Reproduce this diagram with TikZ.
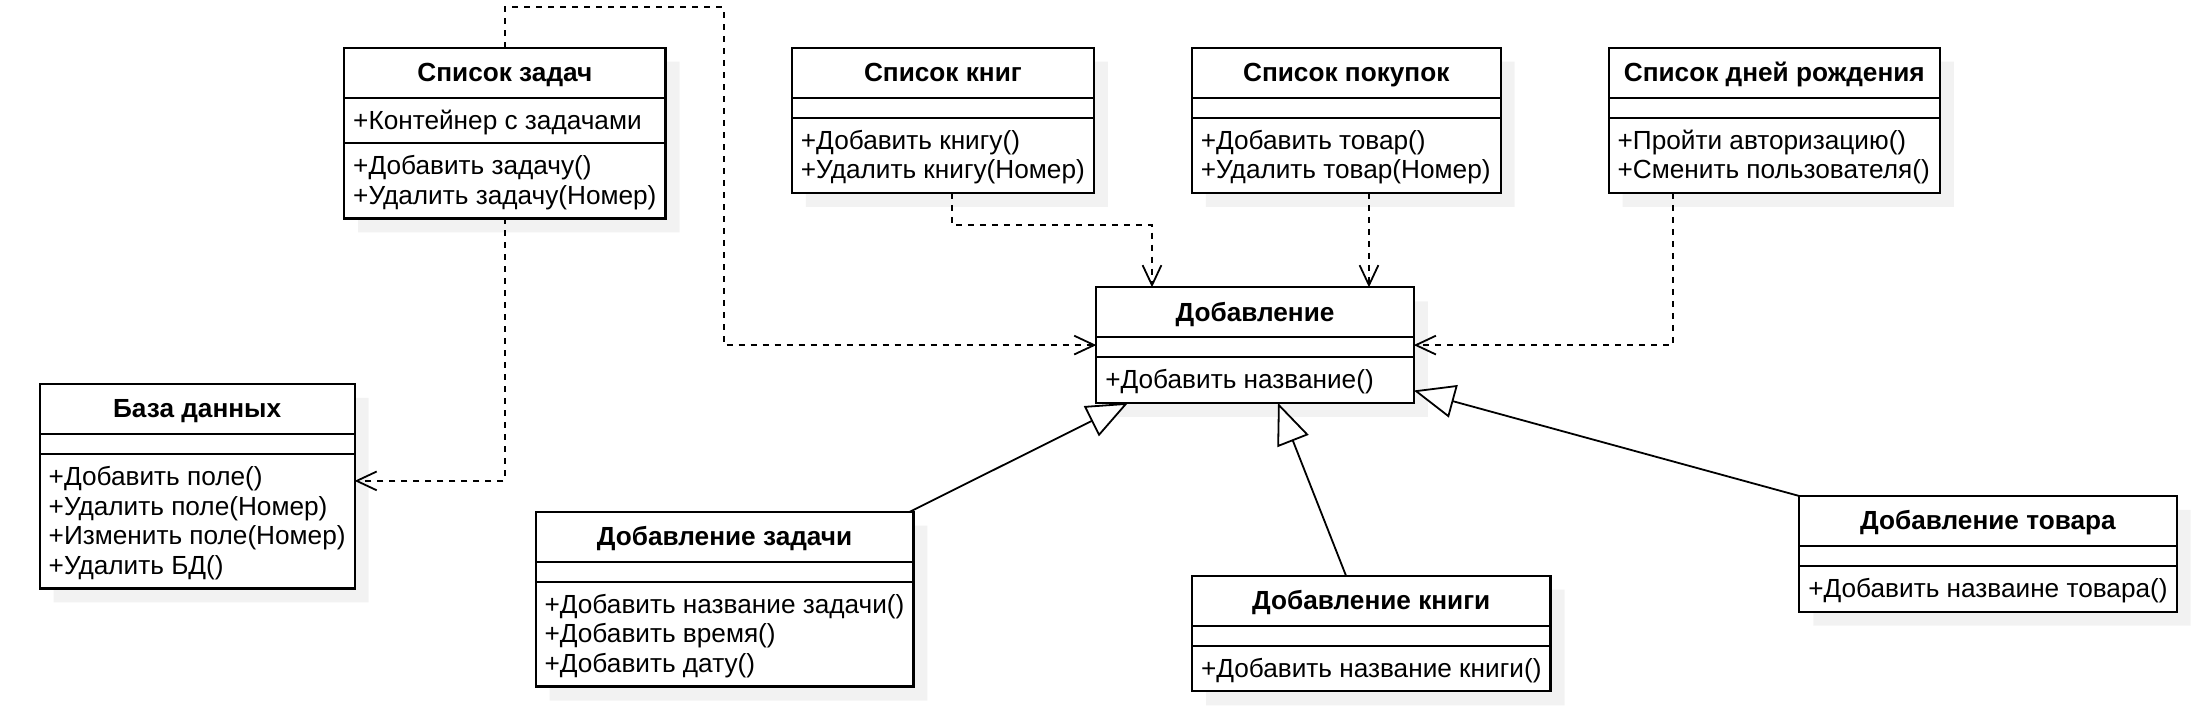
\documentclass[tikz,border=0pt]{standalone}
\usepackage{fontspec}
\setmainfont{Liberation Sans}
\usetikzlibrary{arrows.meta,shapes.multipart,shadows,positioning}

\newcommand{\clsname}[1]{\rule[-4pt]{0pt}{17pt}\textbf{#1}}
\newcommand{\noattr}{\rule{0pt}{2pt}}
\newcommand{\ops}[1]{{\setbox\strutbox\hbox{\vrule height 11.8pt depth 3pt width 0pt}\begin{tabular}{@{}l@{}}#1\end{tabular}}}

\begin{document}
\begin{tikzpicture}[
    x=1pt,
    y=1pt,
    font=\fontsize{13.1pt}{14.8pt}\selectfont,
    every node/.style={outer sep=0}
  ]

  \tikzstyle{umlclass} = [rectangle split, rectangle split parts=3, draw, line width=1.1pt, fill=white, rectangle split part align={center,left,left}, inner xsep=4.5pt, inner ysep=3.45pt, anchor=north west, drop shadow={shadow xshift=7pt, shadow yshift=-7pt, fill=black!5, opacity=1}]
  \tikzstyle{dep} = [draw, line width=0.9pt, dash pattern=on 3pt off 3pt, -{Straight Barb[length=10pt, width=9.4pt]}]
  \tikzstyle{gen} = [draw, line width=0.9pt, -{Triangle[length=20.5pt, width=16.7pt, fill=white]}]

  \useasboundingbox (0,0) rectangle (1100.5,-358);

  \node [umlclass, minimum width=160.65pt] at (172.1,-23.85) (tasks) {\clsname{Список задач}
    \nodepart{two}\ops{+Контейнер с задачами}
    \nodepart{three}\ops{+Добавить задачу()\\+Удалить задачу(Номер)}};
  \node [umlclass, minimum width=151pt, right=63.2pt of tasks.north east, anchor=north west] (books) {\clsname{Список книг}
    \nodepart{two}\noattr
    \nodepart{three}\ops{+Добавить книгу()\\+Удалить книгу(Номер)}};
  \node [umlclass, minimum width=154.45pt, right=48.95pt of books.north east, anchor=north west] (shop) {\clsname{Список покупок}
    \nodepart{two}\noattr
    \nodepart{three}\ops{+Добавить товар()\\+Удалить товар(Номер)}};
  \node [umlclass, minimum width=165.65pt, right=53.95pt of shop.north east, anchor=north west] (bday) {\clsname{Список дней рождения}
    \nodepart{two}\noattr
    \nodepart{three}\ops{+Пройти авторизацию()\\+Сменить пользователя()}};

  \node [umlclass, minimum width=158.75pt] at (548.15,-143.65) (dob) {\clsname{Добавление}
    \nodepart{two}\noattr
    \nodepart{three}\ops{+Добавить название()}};

  \node [umlclass, minimum width=156.6pt] at (19.85,-192) (db) {\clsname{База данных}
    \nodepart{two}\noattr
    \nodepart{three}\ops{+Добавить поле()\\+Удалить поле(Номер)\\+Изменить поле(Номер)\\+Удалить БД()}};

  \node [umlclass, minimum width=188.2pt] at (267.8,-255.85) (tsk) {\clsname{Добавление задачи}
    \nodepart{two}\noattr
    \nodepart{three}\ops{+Добавить название задачи()\\+Добавить время()\\+Добавить дату()}};
  \node [umlclass, minimum width=178.15pt] at (596,-287.85) (bk) {\clsname{Добавление книги}
    \nodepart{two}\noattr
    \nodepart{three}\ops{+Добавить название книги()}};
  \node [umlclass, minimum width=188.2pt] at (899.65,-248) (tov) {\clsname{Добавление товара}
    \nodepart{two}\noattr
    \nodepart{three}\ops{+Добавить назваине товара()}};

  \coordinate (loop) at (361.85,-3.65);
  \path (shop.south) ++(11.35,0) coordinate (shopout);

  \path[dep] (tasks.north) |- (loop) |- (dob.west);
  \path[dep] (tasks.south) |- ([yshift=2.65pt]db.east);
  \path[dep] ([xshift=4.45pt]books.south) -- ++(0,-16) -| ([xshift=27.85pt]dob.north west);
  \path[dep] (shopout) -- (shopout |- dob.north);
  \path[dep] ([xshift=32pt]bday.south west) |- (dob.east);

  \path[gen] ([xshift=-1.8pt]tsk.north east) -- ([xshift=15.85pt]dob.south west);
  \path[gen] ([xshift=77pt]bk.north west) -- ([xshift=90.85pt]dob.south west);
  \path[gen] (tov.north west) -- ([yshift=6.2pt]dob.south east);

\end{tikzpicture}
\end{document}
